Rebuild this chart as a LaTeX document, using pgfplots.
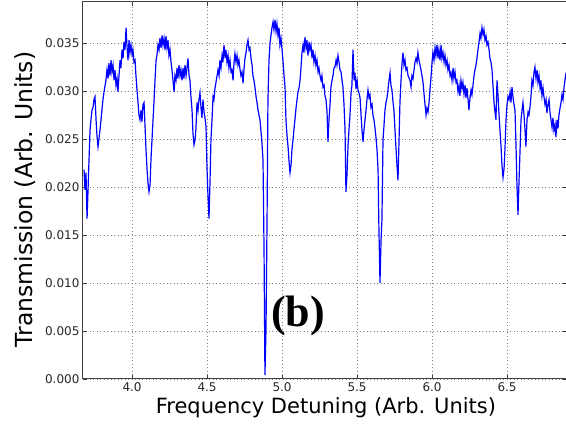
\documentclass[border=0pt]{standalone}
\usepackage{pgfplots}
\pgfplotsset{compat=1.18}
\usepackage{pgfplotstable}
\usepackage{fontspec}
\setmainfont{DejaVu Sans}
\newfontfamily\timesb{Liberation Serif}
\pgfplotstableread{
x y
3.680 0.0218
3.686 0.0197
3.693 0.0215
3.700 0.0167
3.706 0.0194
3.713 0.0228
3.720 0.0259
3.726 0.0270
3.733 0.0280
3.740 0.0283
3.746 0.0291
3.753 0.0294
3.760 0.0270
3.766 0.0254
3.773 0.0242
3.780 0.0251
3.786 0.0259
3.793 0.0270
3.806 0.0291
3.813 0.0299
3.826 0.0311
3.833 0.0322
3.840 0.0313
3.846 0.0329
3.853 0.0316
3.860 0.0332
3.866 0.0320
3.873 0.0327
3.880 0.0311
3.886 0.0322
3.893 0.0306
3.900 0.0313
3.906 0.0299
3.913 0.0316
3.920 0.0332
3.926 0.0324
3.933 0.0343
3.940 0.0334
3.946 0.0351
3.953 0.0343
3.960 0.0366
3.966 0.0348
3.973 0.0332
3.980 0.0353
3.986 0.0340
3.993 0.0348
4.000 0.0338
4.006 0.0343
4.013 0.0330
4.020 0.0332
4.026 0.0316
4.033 0.0301
4.040 0.0288
4.046 0.0275
4.053 0.0270
4.060 0.0280
4.066 0.0268
4.073 0.0286
4.080 0.0288
4.086 0.0265
4.093 0.0239
4.100 0.0218
4.106 0.0205
4.113 0.0195
4.120 0.0202
4.126 0.0228
4.133 0.0249
4.140 0.0270
4.146 0.0288
4.153 0.0311
4.160 0.0332
4.166 0.0337
4.173 0.0348
4.180 0.0343
4.186 0.0355
4.193 0.0345
4.200 0.0358
4.206 0.0348
4.213 0.0355
4.220 0.0343
4.226 0.0357
4.233 0.0345
4.240 0.0353
4.246 0.0337
4.253 0.0343
4.260 0.0330
4.266 0.0322
4.273 0.0311
4.280 0.0299
4.286 0.0316
4.293 0.0311
4.300 0.0324
4.306 0.0313
4.313 0.0327
4.320 0.0316
4.326 0.0322
4.333 0.0311
4.340 0.0324
4.346 0.0313
4.353 0.0327
4.360 0.0316
4.366 0.0324
4.373 0.0334
4.380 0.0316
4.386 0.0311
4.393 0.0293
4.400 0.0280
4.406 0.0256
4.413 0.0244
4.420 0.0249
4.426 0.0261
4.433 0.0288
4.440 0.0280
4.446 0.0291
4.453 0.0298
4.460 0.0282
4.466 0.0272
4.473 0.0291
4.480 0.0278
4.486 0.0272
4.493 0.0263
4.500 0.0218
4.506 0.0192
4.513 0.0167
4.520 0.0207
4.526 0.0249
4.533 0.0270
4.540 0.0294
4.546 0.0291
4.553 0.0303
4.566 0.0315
4.573 0.0322
4.580 0.0316
4.586 0.0332
4.593 0.0324
4.600 0.0337
4.606 0.0330
4.613 0.0348
4.620 0.0334
4.626 0.0343
4.633 0.0330
4.640 0.0337
4.646 0.0324
4.653 0.0332
4.660 0.0320
4.666 0.0322
4.673 0.0311
4.680 0.0330
4.686 0.0339
4.693 0.0330
4.700 0.0337
4.706 0.0327
4.713 0.0332
4.720 0.0322
4.726 0.0316
4.733 0.0320
4.740 0.0308
4.746 0.0322
4.753 0.0334
4.760 0.0340
4.766 0.0348
4.773 0.0353
4.780 0.0343
4.786 0.0345
4.793 0.0334
4.800 0.0327
4.806 0.0316
4.813 0.0311
4.820 0.0303
4.826 0.0295
4.833 0.0288
4.840 0.0280
4.846 0.0275
4.853 0.0270
4.860 0.0257
4.866 0.0246
4.873 0.0228
4.880 0.0134
4.886 0.0004
4.893 0.0051
4.900 0.0166
4.906 0.0291
4.913 0.0332
4.920 0.0350
4.926 0.0358
4.933 0.0366
4.940 0.0372
4.946 0.0364
4.953 0.0374
4.960 0.0362
4.966 0.0370
4.973 0.0358
4.980 0.0366
4.986 0.0348
4.993 0.0355
5.000 0.0343
5.006 0.0332
5.013 0.0316
5.020 0.0304
5.026 0.0270
5.033 0.0254
5.040 0.0242
5.046 0.0228
5.053 0.0215
5.060 0.0223
5.066 0.0239
5.073 0.0249
5.080 0.0261
5.086 0.0270
5.093 0.0282
5.100 0.0291
5.106 0.0299
5.113 0.0303
5.120 0.0311
5.126 0.0324
5.133 0.0340
5.140 0.0348
5.146 0.0340
5.153 0.0356
5.160 0.0345
5.166 0.0353
5.173 0.0337
5.180 0.0351
5.186 0.0343
5.193 0.0348
5.200 0.0334
5.206 0.0343
5.213 0.0330
5.220 0.0337
5.226 0.0327
5.233 0.0332
5.240 0.0320
5.246 0.0324
5.253 0.0316
5.260 0.0311
5.266 0.0316
5.273 0.0304
5.280 0.0306
5.286 0.0295
5.293 0.0291
5.300 0.0278
5.306 0.0247
5.313 0.0270
5.320 0.0286
5.326 0.0304
5.333 0.0311
5.340 0.0316
5.346 0.0324
5.353 0.0325
5.360 0.0332
5.366 0.0327
5.373 0.0337
5.380 0.0330
5.386 0.0322
5.393 0.0320
5.400 0.0311
5.406 0.0304
5.413 0.0286
5.420 0.0259
5.426 0.0195
5.433 0.0213
5.440 0.0244
5.446 0.0259
5.453 0.0275
5.460 0.0298
5.466 0.0306
5.473 0.0343
5.480 0.0311
5.486 0.0319
5.493 0.0302
5.500 0.0311
5.506 0.0301
5.513 0.0298
5.520 0.0293
5.526 0.0277
5.533 0.0259
5.540 0.0247
5.546 0.0259
5.553 0.0270
5.560 0.0280
5.566 0.0291
5.573 0.0301
5.580 0.0293
5.586 0.0296
5.593 0.0283
5.600 0.0286
5.606 0.0275
5.613 0.0270
5.620 0.0261
5.626 0.0252
5.633 0.0239
5.640 0.0218
5.646 0.0155
5.653 0.0100
5.660 0.0145
5.666 0.0166
5.673 0.0249
5.680 0.0265
5.686 0.0280
5.693 0.0288
5.700 0.0293
5.706 0.0301
5.713 0.0311
5.720 0.0319
5.726 0.0306
5.733 0.0301
5.740 0.0288
5.746 0.0280
5.753 0.0259
5.760 0.0239
5.766 0.0223
5.773 0.0207
5.780 0.0249
5.786 0.0288
5.793 0.0311
5.800 0.0329
5.806 0.0340
5.813 0.0327
5.820 0.0332
5.826 0.0322
5.833 0.0324
5.840 0.0316
5.846 0.0314
5.853 0.0311
5.860 0.0304
5.866 0.0316
5.873 0.0313
5.880 0.0322
5.886 0.0330
5.893 0.0334
5.900 0.0330
5.906 0.0340
5.913 0.0332
5.920 0.0327
5.926 0.0322
5.933 0.0316
5.940 0.0309
5.946 0.0298
5.953 0.0286
5.960 0.0275
5.966 0.0282
5.973 0.0278
5.980 0.0288
5.986 0.0301
5.993 0.0314
6.000 0.0330
6.006 0.0340
6.013 0.0332
6.020 0.0345
6.026 0.0337
6.033 0.0348
6.040 0.0334
6.046 0.0343
6.053 0.0332
6.060 0.0348
6.066 0.0334
6.073 0.0340
6.080 0.0330
6.086 0.0337
6.093 0.0327
6.100 0.0332
6.106 0.0322
6.113 0.0327
6.120 0.0316
6.126 0.0319
6.133 0.0311
6.140 0.0324
6.146 0.0313
6.153 0.0320
6.160 0.0309
6.166 0.0311
6.173 0.0299
6.180 0.0306
6.186 0.0295
6.193 0.0311
6.200 0.0303
6.206 0.0309
6.213 0.0297
6.220 0.0306
6.226 0.0293
6.233 0.0303
6.240 0.0291
6.246 0.0280
6.253 0.0293
6.260 0.0301
6.266 0.0296
6.273 0.0306
6.280 0.0316
6.286 0.0322
6.293 0.0327
6.300 0.0335
6.306 0.0343
6.313 0.0351
6.320 0.0360
6.326 0.0355
6.333 0.0366
6.340 0.0359
6.346 0.0364
6.353 0.0353
6.360 0.0357
6.366 0.0348
6.373 0.0351
6.380 0.0343
6.386 0.0334
6.393 0.0330
6.400 0.0322
6.406 0.0306
6.413 0.0288
6.420 0.0278
6.426 0.0270
6.433 0.0311
6.440 0.0295
6.446 0.0277
6.453 0.0259
6.460 0.0242
6.466 0.0223
6.473 0.0210
6.480 0.0219
6.486 0.0239
6.493 0.0270
6.500 0.0286
6.506 0.0294
6.513 0.0291
6.520 0.0299
6.526 0.0288
6.533 0.0304
6.540 0.0293
6.546 0.0286
6.553 0.0280
6.560 0.0242
6.566 0.0202
6.573 0.0171
6.580 0.0207
6.586 0.0235
6.593 0.0270
6.600 0.0280
6.606 0.0288
6.613 0.0275
6.620 0.0259
6.626 0.0242
6.633 0.0270
6.640 0.0278
6.646 0.0275
6.653 0.0283
6.660 0.0295
6.666 0.0311
6.673 0.0306
6.680 0.0320
6.686 0.0325
6.693 0.0313
6.700 0.0322
6.706 0.0309
6.713 0.0316
6.720 0.0303
6.726 0.0311
6.733 0.0295
6.740 0.0303
6.746 0.0294
6.753 0.0286
6.760 0.0291
6.766 0.0277
6.773 0.0286
6.780 0.0291
6.786 0.0278
6.793 0.0270
6.800 0.0262
6.806 0.0272
6.813 0.0259
6.820 0.0265
6.826 0.0252
6.833 0.0270
6.840 0.0261
6.846 0.0275
6.853 0.0282
6.860 0.0288
6.866 0.0296
6.873 0.0291
6.880 0.0304
6.886 0.0311
6.893 0.0319
}\datatable
\begin{document}
\begin{tikzpicture}
\path[use as bounding box] (0,0) rectangle (566pt,426pt);
\begin{axis}[
  at={(83pt,47pt)}, anchor=south west,
  scale only axis, width=483pt, height=377pt,
  xmin=3.673, xmax=6.893, ymin=0, ymax=0.03927,
  xtick={4.0,4.5,5.0,5.5,6.0,6.5},
  ytick={0,0.005,0.010,0.015,0.020,0.025,0.030,0.035},
  scaled y ticks=false,
  xticklabel style={/pgf/number format/.cd, fixed, fixed zerofill, precision=1, assume math mode=true},
  yticklabel style={/pgf/number format/.cd, fixed, fixed zerofill, precision=3, assume math mode=true},
  tick label style={font=\fontsize{12}{14}\selectfont, text=black!85},
  grid=major,
  major grid style={dash pattern=on 1pt off 2.5pt, gray, line width=0.6pt},
  axis line style={black!75, line width=1pt},
  tick style={black!75, line width=0.6pt},
  tick align=inside,
  major tick length=4pt,
  xlabel={Frequency Detuning (Arb. Units)},
  ylabel={Transmission (Arb. Units)},
  xlabel style={font=\fontsize{21}{24}\selectfont, at={(axis description cs:0.503,-0.077)}, anchor=center},
  ylabel style={font=\fontsize{23.5}{27}\selectfont, at={(axis description cs:-0.120,0.476)}, anchor=center, rotate=0},
]
\addplot[blue, line width=1.2pt] table[x=x, y=y] {\datatable};
\node[font=\timesb\bfseries\fontsize{44}{50}\selectfont, anchor=center] at (axis cs:5.106,0.0066) {(b)};
\end{axis}
\end{tikzpicture}
\end{document}
